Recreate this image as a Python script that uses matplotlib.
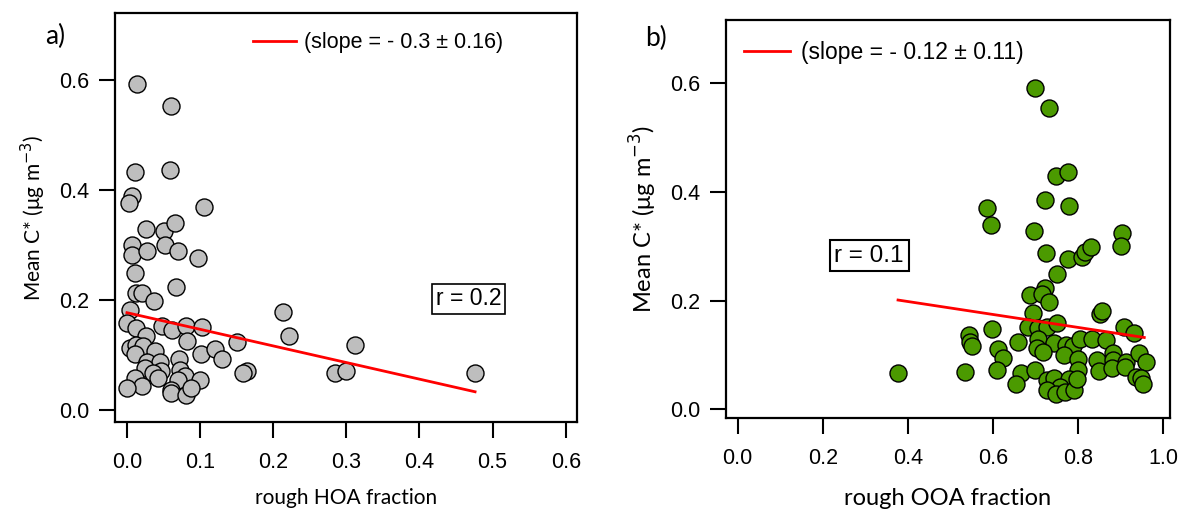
import matplotlib
matplotlib.use("Agg")
import matplotlib.pyplot as plt
import numpy as np

plt.rcParams['font.family'] = ['Liberation Sans', 'DejaVu Sans']

# panel a) : rough HOA fraction vs mean C*
hoa_x = [0.014, 0.060, 0.011, 0.059, 0.007, 0.003, 0.106, 0.026, 0.051, 0.066,
         0.007, 0.007, 0.027, 0.052, 0.070, 0.097, 0.011, 0.067, 0.012, 0.020,
         0.037, 0.004, 0.000, 0.013, 0.048, 0.061, 0.081, 0.103, 0.026, 0.082,
         0.151, 0.213, 0.221, 0.004, 0.012, 0.022, 0.038, 0.011, 0.071, 0.101,
         0.120, 0.130, 0.028, 0.045, 0.025, 0.047, 0.072, 0.036, 0.164, 0.159,
         0.284, 0.299, 0.079, 0.011, 0.021, 0.000, 0.070, 0.100, 0.060, 0.060,
         0.081, 0.088, 0.043, 0.312, 0.476]
hoa_c = [0.593, 0.553, 0.434, 0.437, 0.389, 0.377, 0.370, 0.330, 0.326, 0.340,
         0.301, 0.282, 0.289, 0.301, 0.289, 0.276, 0.249, 0.224, 0.212, 0.213,
         0.198, 0.182, 0.159, 0.149, 0.152, 0.145, 0.152, 0.151, 0.134, 0.125,
         0.123, 0.179, 0.134, 0.113, 0.119, 0.117, 0.107, 0.102, 0.093, 0.101,
         0.110, 0.093, 0.088, 0.088, 0.076, 0.070, 0.073, 0.067, 0.070, 0.067,
         0.067, 0.071, 0.061, 0.058, 0.044, 0.040, 0.054, 0.055, 0.037, 0.030,
         0.027, 0.040, 0.058, 0.118, 0.068]
hoa_fit_x = [0.0, 0.476]
hoa_fit_y = [0.177, 0.033]

# panel b) : rough OOA fraction vs mean C*
ooa_x = [0.699, 0.732, 0.748, 0.776, 0.722, 0.779, 0.587, 0.595, 0.696, 0.904,
         0.901, 0.724, 0.777, 0.809, 0.816, 0.830, 0.750, 0.687, 0.722, 0.715,
         0.732, 0.695, 0.852, 0.856, 0.597, 0.544, 0.546, 0.552, 0.682, 0.707,
         0.728, 0.751, 0.909, 0.932, 0.658, 0.612, 0.623, 0.707, 0.744, 0.772,
         0.788, 0.805, 0.832, 0.865, 0.703, 0.717, 0.768, 0.801, 0.846, 0.883,
         0.882, 0.912, 0.944, 0.959, 0.534, 0.610, 0.666, 0.699, 0.654, 0.801,
         0.849, 0.879, 0.911, 0.936, 0.948, 0.954, 0.728, 0.744, 0.780, 0.758,
         0.728, 0.748, 0.769, 0.791, 0.798, 0.377]
ooa_c = [0.591, 0.555, 0.429, 0.437, 0.385, 0.375, 0.370, 0.339, 0.328, 0.324,
         0.300, 0.288, 0.276, 0.281, 0.290, 0.299, 0.249, 0.211, 0.223, 0.212,
         0.197, 0.178, 0.176, 0.181, 0.147, 0.136, 0.124, 0.117, 0.152, 0.150,
         0.152, 0.159, 0.151, 0.141, 0.124, 0.110, 0.095, 0.130, 0.121, 0.118,
         0.116, 0.130, 0.130, 0.128, 0.112, 0.106, 0.099, 0.093, 0.090, 0.103,
         0.090, 0.087, 0.103, 0.087, 0.069, 0.072, 0.067, 0.072, 0.046, 0.072,
         0.071, 0.075, 0.078, 0.060, 0.058, 0.046, 0.053, 0.058, 0.055, 0.041,
         0.036, 0.028, 0.032, 0.036, 0.055, 0.066]
ooa_fit_x = [0.377, 0.956]
ooa_fit_y = [0.201, 0.132]

label_font = ['Lato', 'DejaVu Sans']
ylab = 'Mean C* (\u03bcg m$^{-3}$)'

fig = plt.figure(figsize=(11.84, 5.15), dpi=100)
ax1 = fig.add_axes([0.0971, 0.1806, 0.390, 0.794])
ax2 = fig.add_axes([0.613, 0.188, 0.375, 0.773])


def style_axis(ax):
    for s in ax.spines.values():
        s.set_linewidth(1.6)
    ax.tick_params(direction='out', length=11.5, width=1.5, labelsize=15.5)
    ax.tick_params(axis='x', pad=10)
    ax.tick_params(axis='y', pad=7)


# a)
ax1.scatter(hoa_x, hoa_c, s=150, facecolor='#BEBEBE', edgecolor='black', linewidth=1.0, zorder=3)
ax1.plot(hoa_fit_x, hoa_fit_y, color='red', lw=2, zorder=4, label='(slope = - 0.3 \u00b1 0.16)')
ax1.set_xlim(-0.0164, 0.615)
ax1.set_ylim(-0.022, 0.7225)
ax1.set_xticks(np.arange(0, 0.61, 0.1))
ax1.set_yticks(np.arange(0, 0.61, 0.2))
ax1.xaxis.set_major_formatter(matplotlib.ticker.FormatStrFormatter('%.1f'))
ax1.yaxis.set_major_formatter(matplotlib.ticker.FormatStrFormatter('%.1f'))
style_axis(ax1)
ax1.set_xlabel('rough HOA fraction', fontsize=15, family=label_font, labelpad=11)
ax1.set_ylabel(ylab, fontsize=15, family=label_font, labelpad=8)
ax1.legend(loc='upper center', bbox_to_anchor=(0.57, 1.0), frameon=False, fontsize=15.5,
           handlelength=2.0, handletextpad=0.4)
ax1.text(0.467, 0.202, 'r = 0.2', fontsize=16.5, ha='center', va='center',
         bbox=dict(boxstyle='square,pad=0.15', facecolor='white', edgecolor='black', lw=1.2))
fig.text(0.038, 0.93, 'a)', fontsize=19, family=label_font, ha='left', va='center')

# b)
ax2.scatter(ooa_x, ooa_c, s=150, facecolor='#4B9A00', edgecolor='black', linewidth=1.0, zorder=3)
ax2.plot(ooa_fit_x, ooa_fit_y, color='red', lw=2, zorder=4, label='(slope = - 0.12 \u00b1 0.11)')
ax2.set_xlim(-0.028, 1.016)
ax2.set_ylim(-0.0166, 0.7166)
ax2.set_xticks(np.arange(0, 1.01, 0.2))
ax2.set_yticks(np.arange(0, 0.61, 0.2))
ax2.xaxis.set_major_formatter(matplotlib.ticker.FormatStrFormatter('%.1f'))
ax2.yaxis.set_major_formatter(matplotlib.ticker.FormatStrFormatter('%.1f'))
style_axis(ax2)
ax2.set_xlabel('rough OOA fraction', fontsize=17, family=label_font, labelpad=14)
ax2.set_ylabel(ylab, fontsize=17, family=label_font, labelpad=8)
ax2.legend(loc='upper left', bbox_to_anchor=(-0.005, 1.0), frameon=False, fontsize=16.5,
           handlelength=2.0, handletextpad=0.5)
ax2.text(0.309, 0.283, 'r = 0.1', fontsize=17.5, ha='center', va='center',
         bbox=dict(boxstyle='square,pad=0.2', facecolor='white', edgecolor='black', lw=1.5))
fig.text(0.545, 0.925, 'b)', fontsize=19, family=label_font, ha='left', va='center')

fig.savefig('out.png', dpi=100)
